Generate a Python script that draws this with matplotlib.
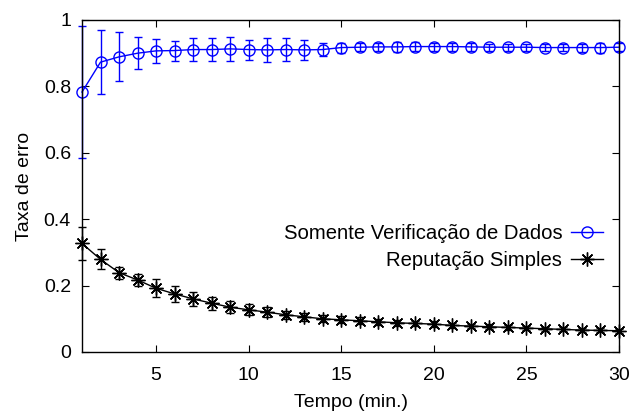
import matplotlib
matplotlib.use('Agg')
import matplotlib.pyplot as plt
from matplotlib.lines import Line2D

plt.rcParams['font.family'] = ['Liberation Sans', 'DejaVu Sans']

tempo = list(range(1, 31))

# Somente Verificacao de Dados
verif = [0.783, 0.873, 0.889, 0.900, 0.907, 0.908, 0.911, 0.911, 0.913, 0.911,
         0.910, 0.911, 0.910, 0.911, 0.917, 0.918, 0.919, 0.919, 0.920, 0.920,
         0.920, 0.919, 0.918, 0.918, 0.918, 0.917, 0.917, 0.917, 0.917, 0.918]
verif_err = [0.200, 0.097, 0.074, 0.049, 0.037, 0.030, 0.035, 0.035, 0.037, 0.030,
             0.035, 0.035, 0.030, 0.020, 0.015, 0.012, 0.012, 0.014, 0.014, 0.012,
             0.012, 0.012, 0.010, 0.010, 0.010, 0.010, 0.010, 0.012, 0.015, 0.012]

# Reputacao Simples
rep = [0.327, 0.279, 0.239, 0.217, 0.192, 0.175, 0.160, 0.147, 0.135, 0.127,
       0.120, 0.112, 0.106, 0.100, 0.097, 0.094, 0.091, 0.088, 0.086, 0.084,
       0.080, 0.078, 0.076, 0.074, 0.072, 0.070, 0.068, 0.066, 0.065, 0.064]
rep_err = [0.050, 0.030, 0.018, 0.018, 0.027, 0.025, 0.022, 0.020, 0.018, 0.017,
           0.015, 0.013, 0.012, 0.010, 0.010, 0.010, 0.009, 0.009, 0.008, 0.008,
           0.008, 0.007, 0.007, 0.007, 0.007, 0.006, 0.006, 0.006, 0.006, 0.006]

blue = '#0000ff'
star = (8, 2, 0)

fig = plt.figure(figsize=(6.35, 4.16), dpi=100)
ax = fig.add_axes([82/635, 1 - 352/416, (619 - 82)/635, (352 - 20)/416])

ax.errorbar(tempo, verif, yerr=verif_err, color=blue, marker='o', ms=8,
            mfc='none', mew=1.0, lw=1.0, elinewidth=1.0, capsize=2.8, capthick=1.0,
            clip_on=False)
ax.errorbar(tempo, rep, yerr=rep_err, color='black', marker=star, ms=10,
            mew=1.0, lw=1.0, elinewidth=1.0, capsize=2.8, capthick=1.0,
            clip_on=False)

ax.set_xlim(1, 30)
ax.set_ylim(0, 1)
ax.set_xticks([5, 10, 15, 20, 25, 30])
ax.set_yticks([0, 0.2, 0.4, 0.6, 0.8, 1])
ax.set_yticklabels(['0', '0.2', '0.4', '0.6', '0.8', '1'])
ax.tick_params(direction='in', top=True, right=True, length=5, width=0.8,
               labelsize=14)
ax.tick_params(axis='x', pad=11)
ax.tick_params(axis='y', pad=8)
for s in ax.spines.values():
    s.set_linewidth(1.0)

ax.set_xlabel('Tempo (min.)', fontsize=14, labelpad=7)
ax.set_ylabel('Taxa de erro', fontsize=14, labelpad=8)

handles = [Line2D([], [], color=blue, marker='o', ms=8, mfc='none', mew=1.0, lw=1.0),
           Line2D([], [], color='black', marker=star, ms=10, mew=1.0, lw=1.0)]
labels = ['Somente Verificação de Dados', 'Reputação Simples']
ax.legend(handles, labels, loc='upper right', bbox_to_anchor=(0.985, 0.41),
          markerfirst=False, frameon=False, fontsize=14.6, handlelength=1.55,
          handletextpad=0.45, labelspacing=0.4, borderaxespad=0)

fig.savefig('out.png', dpi=100)
